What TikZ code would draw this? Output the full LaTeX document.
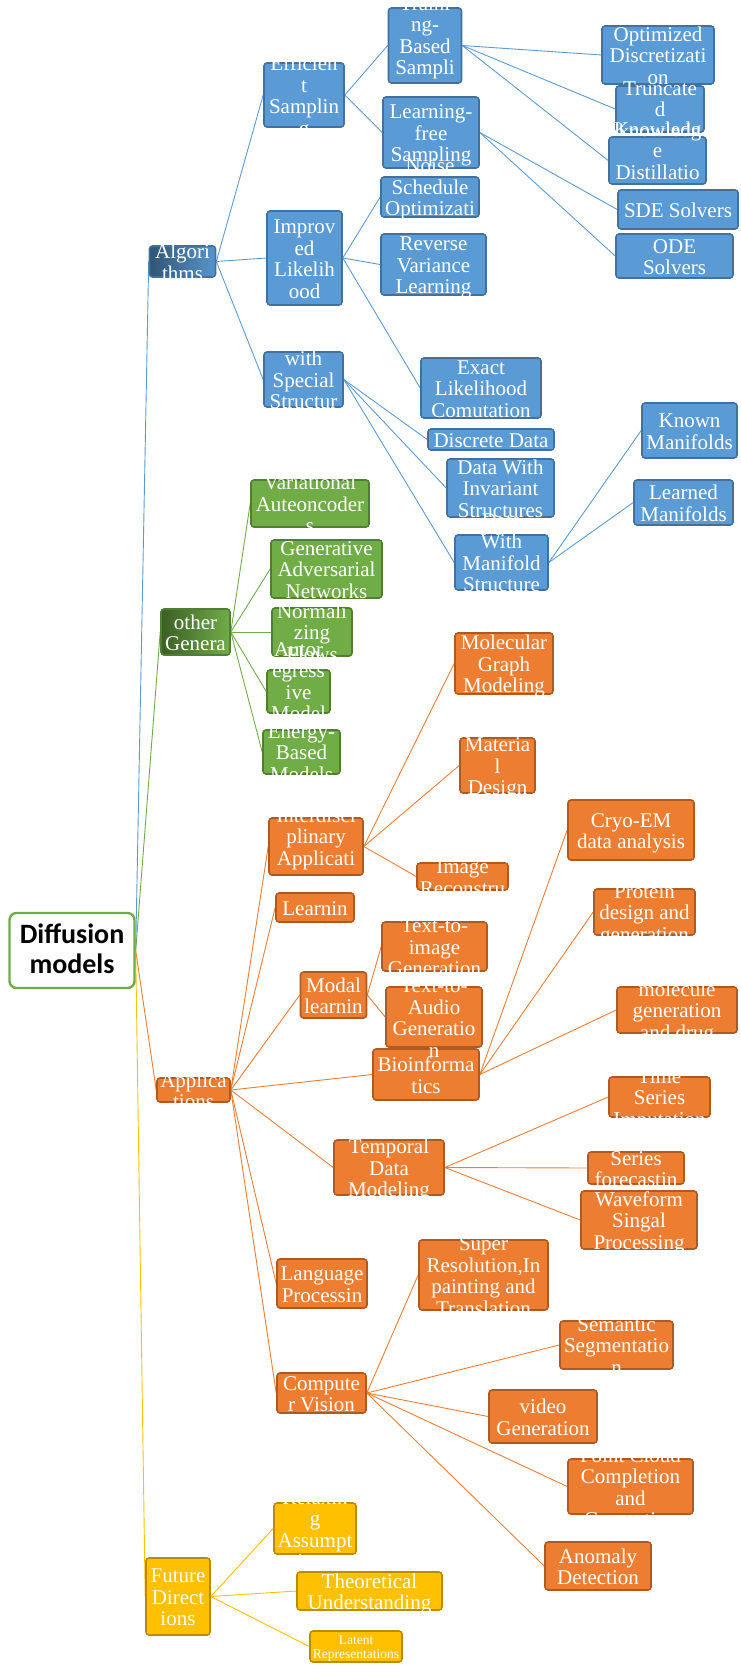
\documentclass[tikz,border=0pt]{standalone}
\usepackage{fontspec}
\setmainfont{Liberation Serif}
\newfontfamily\rootfont{Carlito}
\usetikzlibrary{backgrounds}
\definecolor{blu}{HTML}{5B9BD5}
\definecolor{bluD}{HTML}{41719C}
\definecolor{grn}{HTML}{70AD47}
\definecolor{grnD}{HTML}{507E32}
\definecolor{orn}{HTML}{ED7D31}
\definecolor{ornD}{HTML}{AE5A21}
\definecolor{gld}{HTML}{FFC000}
\definecolor{gldD}{HTML}{BC8C00}
\newcommand{\tx}[2][-.42em]{\makebox[0pt]{\smash{\raisebox{#1}{\begin{tabular}{@{}c@{}}#2\end{tabular}}}}}

\begin{document}
\begin{tikzpicture}[x=1pt,y=-1pt,
    wh/.style 2 args={minimum width=#1,minimum height=#2},
    box/.style={rounded corners=3pt,line width=1.6pt,inner sep=0pt,text=white,font=\fontsize{21}{21.5}\selectfont},
    bbox/.style={box,draw=bluD,fill=blu},
    gbox/.style={box,draw=grnD,fill=grn},
    obox/.style={box,draw=ornD,fill=orn},
    ybox/.style={box,draw=gldD,fill=gld},
    bl/.style={draw=blu,line width=0.9pt},
    gl/.style={draw=grn,line width=0.9pt},
    ol/.style={draw=orn,line width=0.9pt},
    yl/.style={draw=gld,line width=0.9pt}]
      \useasboundingbox (0,0) rectangle (740,1665);

      \node[draw=grn,line width=2.4pt,fill=white,rounded corners=7pt,inner sep=0pt,wh={125}{75},
        font=\rootfont\fontsize{28}{30}\selectfont\bfseries] (0) at (72,950.5) {\tx[-.3em]{Diffusion\\models}};

      \node[box,draw=bluD,left color=bluD!75!black,right color=blu!85!bluD,wh={66}{31}] (1) at (182.5,261.5) {\tx{Algori\\thms}};
      \node[box,draw=grnD,left color=grnD!75!black,right color=grn,wh={69}{46}] (2) at (195.5,632) {\tx{other\\Genera}};
      \node[obox,wh={73}{24}] (3) at (193.5,1090) {\tx{Applica\\tions}};
      \node[ybox,wh={64}{77}] (4) at (178,1596.5) {\tx{Future\\Direct\\ions}};

      \node[bbox,wh={80}{64}] (11) at (304,95) {\tx{Efficien\\t\\Samplin\\g}};
      \node[bbox,wh={75}{94}] (12) at (304.5,258) {\tx{Improv\\ed\\Likelih\\ood}};
      \node[bbox,wh={79}{55}] (13) at (303.5,379.5) {\tx{Data\\with\\Special\\Structur\\es}};
      \node[gbox,wh={118}{47}] (21) at (310,503.5) {\tx{Variational\\Auteoncoder\\s}};
      \node[gbox,wh={111}{58}] (22) at (326.5,569) {\tx{Generative\\Adversarial\\Networks}};
      \node[gbox,wh={80}{48}] (23) at (312,632) {\tx{Normali\\zing\\Flows}};
      \node[gbox,wh={63}{43}] (24) at (298.5,691.5) {\tx{Autor\\egress\\ive\\Model\\s}};
      \node[gbox,wh={77}{44}] (25) at (301.5,752) {\tx{Energy-\\Based\\Models}};
      \node[obox,wh={94}{57}] (31) at (316,846.5) {\tx{Interdisci\\plinary\\Applicati\\ons}};
      \node[obox,wh={78}{29}] (32) at (315,907.5) {\tx{Learnin}};
      \node[obox,wh={66}{46}] (33) at (333.5,995) {\tx{Modal\\learnin}};
      \node[obox,wh={106}{51}] (34) at (426,1074.5) {\tx{Bioinforma\\tics}};
      \node[obox,wh={110}{55}] (35) at (389,1167.5) {\tx{Temporal\\Data\\Modeling}};
      \node[obox,wh={90}{49}] (36) at (322,1283.5) {\tx{Language\\Processin}};
      \node[obox,wh={89}{40}] (37) at (321.5,1393) {\tx{Compute\\r Vision}};
      \node[ybox,wh={82}{51}] (41) at (315,1528.5) {\tx{Relaxin\\g\\Assumpt\\ions}};
      \node[ybox,wh={145}{38}] (42) at (369.5,1591) {\tx{Theoretical\\Understanding}};
      \node[ybox,wh={92}{31},font=\fontsize{13.5}{13.5}\selectfont] (43) at (356,1646.5) {\tx{Latent\\Representations}};

      \node[bbox,wh={73}{75}] (111) at (425,45.5) {\tx{Traini\\ng-\\Based\\Sampli\\ng}};
      \node[bbox,wh={96}{71}] (112) at (431,132.5) {\tx{Learning-\\free\\Sampling}};
      \node[bbox,wh={98}{40}] (121) at (430,197) {\tx{Noise\\Schedule\\Optimizati\\on}};
      \node[bbox,wh={105}{61}] (122) at (433.5,264.5) {\tx{Reverse\\Variance\\Learning}};
      \node[bbox,wh={120}{60}] (123) at (481,388) {\tx{Exact\\Likelihood\\Comutation}};
      \node[bbox,wh={126}{21}] (131) at (491,439.5) {\tx{Discrete Data}};
      \node[bbox,wh={107}{58}] (132) at (500.5,488) {\tx{Data With\\Invariant\\Structures}};
      \node[bbox,wh={93}{55}] (133) at (501.5,562.5) {\tx{Data\\With\\Manifold\\Structure\\s}};
      \node[obox,wh={98}{61}] (311) at (504,663.5) {\tx{Molecular\\Graph\\Modeling}};
      \node[obox,wh={75}{55}] (312) at (497.5,765.5) {\tx{Materia\\l\\Design}};
      \node[obox,wh={91}{27}] (313) at (462.5,876.5) {\tx{Image\\Reconstru}};
      \node[obox,wh={105}{49}] (331) at (434.5,946.5) {\tx{Text-to-\\image\\Generation}};
      \node[obox,wh={96}{60}] (332) at (434,1017) {\tx{Text-to-\\Audio\\Generatio\\n}};
      \node[obox,wh={126}{60}] (341) at (631,830) {\tx{Cryo-EM\\data analysis}};
      \node[obox,wh={101}{46}] (342) at (644.5,912) {\tx{Protein\\design and\\generation}};
      \node[obox,wh={120}{46}] (343) at (677,1010) {\tx{molecule\\generation\\and drug}};
      \node[obox,wh={101}{40}] (351) at (659.5,1097) {\tx{Time\\Series\\Imputation}};
      \node[obox,wh={96}{32}] (352) at (636,1168) {\tx{Series\\forecastin}};
      \node[obox,wh={116}{58}] (353) at (639,1220) {\tx{Waveform\\Singal\\Processing}};
      \node[obox,wh={129}{70}] (371) at (483.5,1275) {\tx{Super\\Resolution,In\\painting and\\Translation}};
      \node[obox,wh={113}{48}] (372) at (616.5,1345) {\tx{Semantic\\Segmentatio\\n}};
      \node[obox,wh={108}{53}] (373) at (543,1416.5) {\tx{video\\Generation}};
      \node[obox,wh={125}{55}] (374) at (630.5,1486.5) {\tx{Point Cloud\\Completion\\and\\Generation}};
      \node[obox,wh={106}{48}] (375) at (598,1566) {\tx{Anomaly\\Detection}};

      \node[bbox,wh={112}{58}] (1111) at (658,55) {\tx{Optimized\\Discretizati\\on}};
      \node[bbox,wh={88}{46}] (1112) at (660,109) {\tx{Truncate\\d\\knowledg}};
      \node[bbox,wh={97}{47}] (1113) at (657.5,160.5) {\tx{Knowledg\\e\\Distillatio\\n}};
      \node[bbox,wh={120}{39}] (1121) at (678,209.5) {\tx{SDE Solvers}};
      \node[bbox,wh={117}{44}] (1122) at (674.5,256) {\tx{ODE\\Solvers}};
      \node[bbox,wh={95}{55}] (1331) at (689.5,430.5) {\tx{Known\\Manifolds}};
      \node[bbox,wh={99}{45}] (1332) at (683.5,502.5) {\tx{Learned\\Manifolds}};

      \begin{scope}[on background layer]
      \draw[bl] (0.east) -- (1.west);
      \draw[gl] (0.east) -- (2.west);
      \draw[ol] (0.east) -- (3.west);
      \draw[yl] (0.east) -- (4.west);

      \draw[bl] (1.east) -- (11.west);
      \draw[bl] (1.east) -- (12.west);
      \draw[bl] (1.east) -- (13.west);
      \draw[bl] (11.east) -- (111.west);
      \draw[bl] (11.east) -- (112.west);
      \draw[bl] (111.east) -- (1111.west);
      \draw[bl] (111.east) -- (1112.west);
      \draw[bl] (111.east) -- (1113.west);
      \draw[bl] (112.east) -- (1121.west);
      \draw[bl] (112.east) -- (1122.west);
      \draw[bl] (12.east) -- (121.west);
      \draw[bl] (12.east) -- (122.west);
      \draw[bl] (12.east) -- (123.west);
      \draw[bl] (13.east) -- (131.west);
      \draw[bl] (13.east) -- (132.west);
      \draw[bl] (13.east) -- (133.west);
      \draw[bl] (133.east) -- (1331.west);
      \draw[bl] (133.east) -- (1332.west);

      \draw[gl] (2.east) -- (21.west);
      \draw[gl] (2.east) -- (22.west);
      \draw[gl] (2.east) -- (23.west);
      \draw[gl] (2.east) -- (24.west);
      \draw[gl] (2.east) -- (25.west);

      \draw[ol] (3.east) -- (31.west);
      \draw[ol] (3.east) -- (32.west);
      \draw[ol] (3.east) -- (33.west);
      \draw[ol] (3.east) -- (34.west);
      \draw[ol] (3.east) -- (35.west);
      \draw[ol] (3.east) -- (36.west);
      \draw[ol] (3.east) -- (37.west);
      \draw[ol] (31.east) -- (311.west);
      \draw[ol] (31.east) -- (312.west);
      \draw[ol] (31.east) -- (313.west);
      \draw[ol] (33.east) -- (331.west);
      \draw[ol] (33.east) -- (332.west);
      \draw[ol] (34.east) -- (341.west);
      \draw[ol] (34.east) -- (342.west);
      \draw[ol] (34.east) -- (343.west);
      \draw[ol] (35.east) -- (351.west);
      \draw[ol] (35.east) -- (352.west);
      \draw[ol] (35.east) -- (353.west);
      \draw[ol] (37.east) -- (371.west);
      \draw[ol] (37.east) -- (372.west);
      \draw[ol] (37.east) -- (373.west);
      \draw[ol] (37.east) -- (374.west);
      \draw[ol] (37.east) -- (375.west);

      \draw[yl] (4.east) -- (41.west);
      \draw[yl] (4.east) -- (42.west);
      \draw[yl] (4.east) -- (43.west);
      \end{scope}
    \end{tikzpicture}
\end{document}
